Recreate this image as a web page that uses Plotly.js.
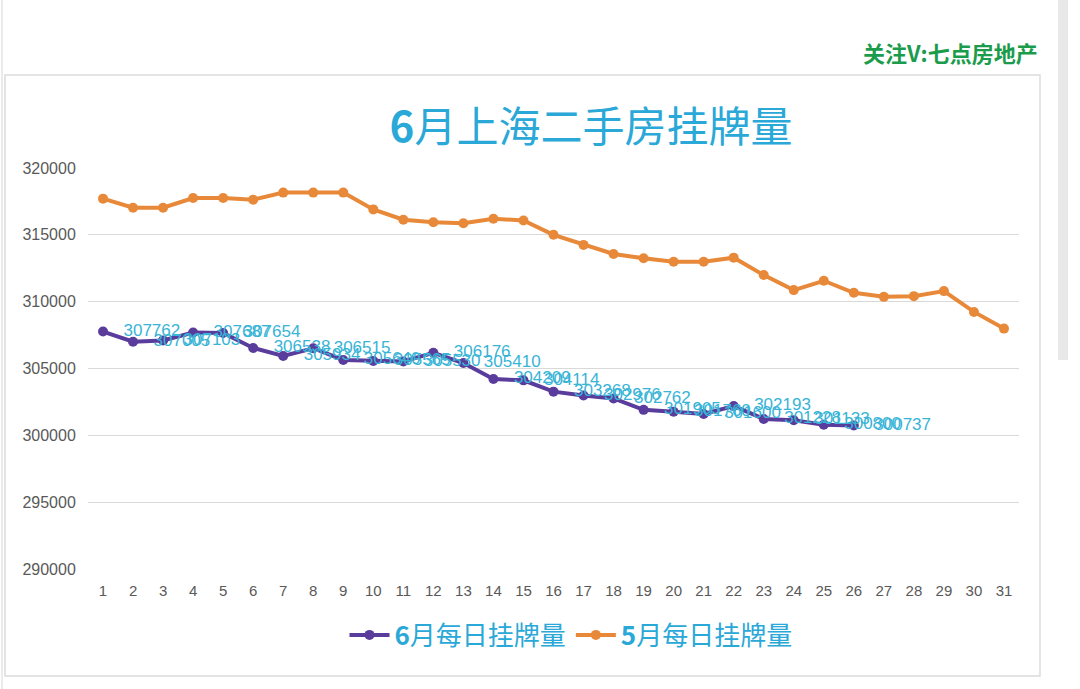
<!DOCTYPE html>
<html>
<head>
<meta charset="utf-8">
<script src="https://cdn.plot.ly/plotly-3.0.1.min.js"></script>
<style>
html,body{margin:0;padding:0;background:#fff;}
#chart{width:1080px;height:689px;}
</style>
</head>
<body>
<div id="chart"></div>
<script>
var days = ['1','2','3','4','5','6','7','8','9','10','11','12','13','14','15','16','17','18','19','20','21','22','23','24','25','26','27','28','29','30','31'];
var juneDays = days.slice(0, 26);
var juneValues = [307762,307005,307103,307687,307654,306538,305934,306515,305640,305565,305530,306176,305410,304209,304114,303268,302976,302762,301905,301760,301600,302193,301228,301133,300800,300737];
var mayValues = [317707,317030,317030,317752,317752,317632,318158,318158,318158,316902,316128,315947,315872,316203,316075,315000,314248,313571,313248,312992,312992,313293,311992,310865,311564,310662,310361,310414,310789,309233,307985];
var yTicks = [290000,295000,300000,305000,310000,315000,320000];
var juneName = '<b>6</b>月每日挂牌量';
var mayName = '<b>5</b>月每日挂牌量';
var titleText = '<b>6</b>月上海二手房挂牌量';
var watermark = '<b>关注V:七点房地产</b>';

var cjk = '"Noto Sans CJK SC", "Liberation Sans", sans-serif';
var lat = '"Liberation Sans", Arial, sans-serif';

var traces = [
  {
    x: juneDays, y: juneValues, name: juneName, type: 'scatter',
    mode: 'lines+markers+text',
    text: juneValues.map(function(v){ return '\u2002\u00a0' + v; }),
    textposition: 'middle right',
    textfont: {family: lat, size: 17, color: '#38b4d6'},
    line: {color: '#5a3c9c', width: 4},
    marker: {color: '#5a3c9c', size: 10},
    cliponaxis: false
  },
  {
    x: days, y: mayValues, name: mayName, type: 'scatter',
    mode: 'lines+markers',
    line: {color: '#e8893a', width: 4},
    marker: {color: '#e8893a', size: 10}
  }
];

function px(v){ return (v - 88) / 931; }
function py(v){ return (569 - v) / 401; }

var layout = {
  width: 1080, height: 689,
  margin: {l: 88, r: 61, t: 168, b: 120},
  paper_bgcolor: '#ffffff',
  plot_bgcolor: '#ffffff',
  title: {
    text: titleText,
    font: {family: cjk, size: 42, color: '#2aa8d8'},
    x: 591/1080, xanchor: 'center',
    y: 1 - 127/689, yanchor: 'middle'
  },
  xaxis: {
    type: 'category',
    range: [-0.5, 30.5],
    showgrid: false, zeroline: false, showline: false,
    ticks: 'outside', ticklen: 8, tickcolor: 'rgba(0,0,0,0)',
    tickfont: {family: lat, size: 15, color: '#595959'},
    fixedrange: true
  },
  yaxis: {
    range: [290000, 320000],
    tickvals: yTicks,
    ticktext: yTicks.map(String),
    showgrid: true, gridcolor: '#d9d9d9', gridwidth: 1.3,
    zeroline: false, showline: false,
    ticks: 'outside', ticklen: 8, tickcolor: 'rgba(0,0,0,0)',
    tickfont: {family: lat, size: 16, color: '#595959'},
    fixedrange: true
  },
  showlegend: true,
  legend: {
    orientation: 'h',
    x: px(571), xanchor: 'center',
    y: py(635), yanchor: 'middle',
    font: {family: cjk, size: 26, color: '#2aa8d8'},
    itemwidth: 40,
    bgcolor: 'rgba(0,0,0,0)'
  },
  annotations: [
    {
      text: watermark, xref: 'paper', yref: 'paper',
      x: px(1040), xanchor: 'right', y: py(52), yanchor: 'middle',
      showarrow: false,
      font: {family: cjk, size: 22, color: '#1b9c4c'}
    }
  ],
  shapes: [
    {type: 'rect', xref: 'paper', yref: 'paper',
     x0: px(5), x1: px(1040), y0: py(676), y1: py(75),
     line: {color: '#dcdcdc', width: 1.5}, fillcolor: 'rgba(0,0,0,0)', layer: 'below'},
    {type: 'line', xref: 'paper', yref: 'paper',
     x0: px(2), x1: px(2), y0: py(689), y1: py(0),
     line: {color: '#e4e4e4', width: 1.5}},
    {type: 'rect', xref: 'paper', yref: 'paper',
     x0: px(1058), x1: px(1068), y0: py(360), y1: py(0),
     line: {width: 0}, fillcolor: '#e8e8e8'}
  ]
};

Plotly.newPlot('chart', traces, layout, {displayModeBar: false, staticPlot: true});
</script>
</body>
</html>
